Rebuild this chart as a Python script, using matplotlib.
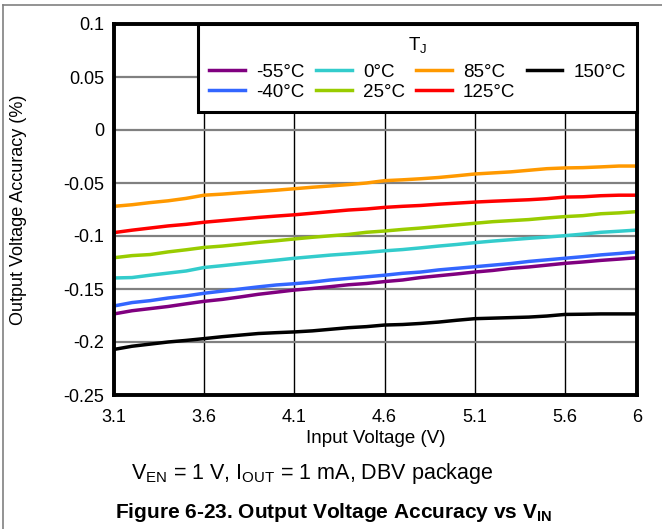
import matplotlib
matplotlib.use("Agg")
import matplotlib.pyplot as plt
from matplotlib.lines import Line2D
import numpy as np

plt.rcParams['font.family'] = ['Liberation Sans', 'DejaVu Sans']
plt.rcParams['mathtext.fontset'] = 'custom'
plt.rcParams['mathtext.rm'] = 'Liberation Sans'
plt.rcParams['mathtext.it'] = 'Liberation Sans:italic'
plt.rcParams['mathtext.bf'] = 'Liberation Sans:bold'

vin = [3.1, 3.2, 3.3, 3.4, 3.5, 3.6, 3.7, 3.8, 3.9, 4.0,
       4.1, 4.2, 4.3, 4.4, 4.5, 4.6, 4.7, 4.8, 4.9, 5.0,
       5.1, 5.2, 5.3, 5.4, 5.5, 5.6, 5.7, 5.8, 5.9, 6.0]

acc_m55 = [-0.1735, -0.1705, -0.1685, -0.1665, -0.1640, -0.1616, -0.1598, -0.1575, -0.1550, -0.1530,
           -0.1510, -0.1495, -0.1478, -0.1460, -0.1448, -0.1430, -0.1415, -0.1392, -0.1375, -0.1358,
           -0.1340, -0.1325, -0.1305, -0.1292, -0.1275, -0.1258, -0.1245, -0.1230, -0.1218, -0.1205]
acc_m40 = [-0.1660, -0.1628, -0.1610, -0.1585, -0.1565, -0.1540, -0.1520, -0.1500, -0.1480, -0.1462,
           -0.1450, -0.1435, -0.1415, -0.1400, -0.1385, -0.1370, -0.1352, -0.1340, -0.1320, -0.1305,
           -0.1290, -0.1275, -0.1260, -0.1240, -0.1225, -0.1210, -0.1195, -0.1178, -0.1165, -0.1150]
acc_0 = [-0.1396, -0.1392, -0.1370, -0.1350, -0.1330, -0.1297, -0.1280, -0.1262, -0.1245, -0.1228,
         -0.1210, -0.1195, -0.1180, -0.1168, -0.1155, -0.1140, -0.1128, -0.1112, -0.1095, -0.1080,
         -0.1063, -0.1048, -0.1035, -0.1022, -0.1010, -0.0997, -0.0982, -0.0965, -0.0955, -0.0944]
acc_25 = [-0.1205, -0.1185, -0.1175, -0.1150, -0.1130, -0.1108, -0.1095, -0.1078, -0.1060, -0.1045,
          -0.1028, -0.1012, -0.0998, -0.0985, -0.0965, -0.0953, -0.0938, -0.0925, -0.0910, -0.0895,
          -0.0880, -0.0865, -0.0855, -0.0845, -0.0830, -0.0817, -0.0808, -0.0790, -0.0782, -0.0770]
acc_85 = [-0.0720, -0.0705, -0.0685, -0.0668, -0.0645, -0.0615, -0.0605, -0.0592, -0.0580, -0.0568,
          -0.0554, -0.0540, -0.0528, -0.0515, -0.0500, -0.0478, -0.0470, -0.0460, -0.0448, -0.0432,
          -0.0415, -0.0405, -0.0395, -0.0380, -0.0365, -0.0358, -0.0355, -0.0348, -0.0340, -0.0340]
acc_125 = [-0.0968, -0.0945, -0.0925, -0.0905, -0.0890, -0.0870, -0.0855, -0.0840, -0.0825, -0.0812,
           -0.0800, -0.0785, -0.0770, -0.0755, -0.0745, -0.0730, -0.0720, -0.0712, -0.0700, -0.0690,
           -0.0680, -0.0672, -0.0665, -0.0658, -0.0648, -0.0633, -0.0630, -0.0620, -0.0615, -0.0615]
acc_150 = [-0.2070, -0.2040, -0.2020, -0.2000, -0.1985, -0.1968, -0.1950, -0.1935, -0.1920, -0.1912,
           -0.1905, -0.1895, -0.1880, -0.1865, -0.1855, -0.1840, -0.1835, -0.1825, -0.1812, -0.1795,
           -0.1780, -0.1775, -0.1770, -0.1765, -0.1755, -0.1740, -0.1738, -0.1735, -0.1735, -0.1735]

labels = ['-55°C', '-40°C', '0°C', '25°C', '85°C', '125°C', '150°C']
colors = ['#800080', '#3366FF', '#33CCCC', '#99CC00', '#FF9900', '#FF0000', '#000000']
series = [acc_m55, acc_m40, acc_0, acc_25, acc_85, acc_125, acc_150]

xticks = [3.1, 3.6, 4.1, 4.6, 5.1, 5.6, 6]
xticklabels = ['3.1', '3.6', '4.1', '4.6', '5.1', '5.6', '6']
yticks = [-0.25, -0.2, -0.15, -0.1, -0.05, 0, 0.05, 0.1]
yticklabels = ['-0.25', '-0.2', '-0.15', '-0.1', '-0.05', '0', '0.05', '0.1']

fig = plt.figure(figsize=(6.62, 5.29), dpi=100)
ax = fig.add_axes([114/662, 1-395/529, (637-114)/662, (395-24)/529])

for x in xticks:
    ax.axvline(x, color='black', lw=1.0, zorder=1)
for y in yticks:
    ax.axhline(y, color='#808080', lw=1.6, zorder=1)

for vals, lab, c in zip(series, labels, colors):
    ax.plot(vin, vals, color=c, lw=2.5, label=lab, zorder=3)

ax.set_xlim(3.1, 6)
ax.set_ylim(-0.25, 0.1)
ax.set_xticks(xticks)
ax.set_xticklabels(xticklabels)
ax.set_yticks(yticks)
ax.set_yticklabels(yticklabels)
ax.tick_params(axis='both', length=0, labelsize=13)
ax.tick_params(axis='x', pad=10)
ax.tick_params(axis='y', pad=7)
for s in ax.spines.values():
    s.set_linewidth(2.8)
    s.set_color('black')
    s.set_zorder(5)

ax.set_xlabel('Input Voltage (V)', fontsize=13.5, labelpad=3)
ax.set_ylabel('Output Voltage Accuracy (%)', fontsize=13, labelpad=26)

leg = ax.legend(loc='upper right', bbox_to_anchor=(1.0, 1.0), ncol=4,
                title='T$_\\mathrm{J}$', fontsize=13.5, title_fontsize=13.5,
                frameon=True, fancybox=False, framealpha=1, edgecolor='black',
                borderaxespad=0, handlelength=1.9, handletextpad=0.6,
                columnspacing=0.6, labelspacing=0.15, borderpad=0.6)
leg.get_frame().set_linewidth(2.2)
leg.set_zorder(6)
try:
    leg._legend_box.sep = 0.45 * 13.5
except Exception:
    pass

fig.text(312/662, 1-473/529, 'V$_\\mathrm{EN}$ = 1 V, I$_\\mathrm{OUT}$ = 1 mA, DBV package',
         ha='center', va='center', fontsize=15.5)
fig.text(333/662, 1-513/529, 'Figure 6-23. Output Voltage Accuracy vs V$_\\mathbf{IN}$',
         ha='center', va='center', fontsize=15, fontweight='bold')

fig.add_artist(Line2D([3/662, 1], [1-5/529, 1-5/529], transform=fig.transFigure, color='#808080', lw=1.2))
fig.add_artist(Line2D([3/662, 3/662], [0, 1-5/529], transform=fig.transFigure, color='#808080', lw=1.2))

fig.savefig('out.png', dpi=100)
